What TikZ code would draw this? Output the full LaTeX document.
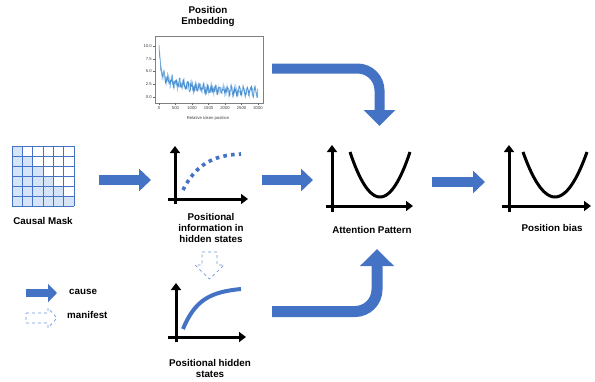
\documentclass[tikz,border=0pt]{standalone}
\usepackage{fontspec}
\setmainfont{Liberation Sans}
\usetikzlibrary{arrows.meta}
\definecolor{cblue}{HTML}{4472C4}
\definecolor{lblue}{HTML}{D6E4F7}
\definecolor{mblue}{HTML}{6F97DA}
\definecolor{pblue}{HTML}{4A90D0}
\definecolor{pblue2}{HTML}{9CC6EC}
\begin{document}
\begin{tikzpicture}[x=1pt,y=-1pt,
  lbl/.style={font=\bfseries\fontsize{9.8}{11}\selectfont, align=center, inner sep=0pt},
  tick/.style={font=\fontsize{4.2}{4.6}\selectfont, text=black!75, inner sep=0.5pt},
  axis/.style={line width=3pt, -{Triangle[length=7pt,width=10pt]}},
  ucurve/.style={line width=3pt, black},
  cause/.style={cblue, line width=10pt, -{Triangle[length=12pt,width=22pt]}},
  manifest/.style={mblue, dashed, line width=0.7pt},
]
\useasboundingbox (0,0) rectangle (595,381);

% ---------- Position embedding plot ----------
\node[lbl] (pe) at (208,16) {Position\\Embedding};
\draw[black!50, line width=0.5pt] (155,36) rectangle (263,103);
\begin{scope}
\clip (155.3,36.3) rectangle (262.7,102.7);
\pgfmathsetseed{7}
\draw[pblue2, line width=0.5pt] plot[domain=0:3000, samples=301]
  ({159+0.033*\x},{97-5.1*(0.9+3.3*exp(-\x/900)+5.5*exp(-\x/45)+1.1*rand+0.5*sin(\x*3))});
\draw[pblue, line width=0.5pt] plot[domain=0:3000, samples=301]
  ({159+0.033*\x},{97-5.1*(0.9+3.3*exp(-\x/900)+5.5*exp(-\x/45)+0.7*rand+0.5*sin(\x*3))});
\end{scope}
\foreach \v/\t in {0/0.0,2.5/2.5,5/5.0,7.5/7.5,10/10.0}{
  \draw[black!60, line width=0.3pt] (155,{97-5.1*\v}) -- (153,{97-5.1*\v});
  \node[tick, anchor=east] at (152.5,{97-5.1*\v}) {\t};
}
\foreach \v in {0,500,1000,1500,2000,2500,3000}{
  \draw[black!60, line width=0.3pt] ({159+0.033*\v},103) -- ({159+0.033*\v},105);
  \node[tick, anchor=north] at ({159+0.033*\v},105.5) {\v};
}
\node[tick] (pexl) at (208,118) {Relative token position};

% ---------- Causal mask ----------
\foreach \r in {0,...,5}{
  \foreach \c in {0,...,\r}{
    \fill[lblue] ({12+\c*62/6},{146+\r*10}) rectangle +({62/6},10);
  }
}
\foreach \i in {0,...,6}{
  \draw[cblue, line width=0.7pt] ({12+\i*62/6},146) -- ({12+\i*62/6},206);
  \draw[cblue, line width=0.7pt] (12,{146+\i*10}) -- (74,{146+\i*10});
}
\node[lbl] (cm) at (43,221) {Causal Mask};

% ---------- Positional information plot ----------
\draw[axis] (175,204) -- (175,146);
\draw[axis] (168,199) -- (248,199);
\draw[cblue, line width=3.6pt, dash pattern=on 3.6pt off 4.2pt]
  (183,190) .. controls (195,166) and (212,155) .. (241,154);
\node[lbl] (pi) at (211,228) {Positional\\information in\\hidden states};

% ---------- Attention pattern plot ----------
\draw[axis] (332,212) -- (332,145);
\draw[axis] (326,206) -- (413,206);
\draw[ucurve] plot[domain=-30:30, samples=41] ({380+\x},{197-45*(\x/30)^2});
\node[lbl] (ap) at (372,230) {Attention Pattern};

% ---------- Position bias plot ----------
\draw[axis] (509,212) -- (509,145);
\draw[axis] (502,206) -- (591,206);
\draw[ucurve] plot[domain=-32:32, samples=41] ({555+\x},{197-45*(\x/32)^2});
\node[lbl] (pb) at (552,228) {Position bias};

% ---------- Positional hidden states plot ----------
\draw[axis] (176,342) -- (176,283);
\draw[axis] (168,337) -- (246,337);
\draw[cblue, line width=4pt]
  (183,329) .. controls (195,300) and (210,292) .. (241,289);
\node[lbl] (ph) at (210,368) {Positional hidden\\states};

% ---------- Cause arrows ----------
\coordinate (a1s) at (99,180);  \coordinate (a1e) at (151,180);
\coordinate (a2s) at (262,180); \coordinate (a2e) at (313,180);
\coordinate (a3s) at (432,182); \coordinate (a3e) at (485,182);
\draw[cause] (a1s) -- (a1e);
\draw[cause] (a2s) -- (a2e);
\draw[cause] (a3s) -- (a3e);

\coordinate (ts) at (272,68.5); \coordinate (tc) at (379.5,68.5); \coordinate (te) at (379.5,126);
\draw[cblue, line width=10pt, rounded corners=22pt, -{Triangle[length=16pt,width=31pt]}]
  (ts) -- (tc) -- (te);
\coordinate (bs) at (272,311.5); \coordinate (bc) at (377,311.5); \coordinate (be) at (377,249);
\draw[cblue, line width=11pt, rounded corners=22pt, -{Triangle[length=17pt,width=33pt]}]
  (bs) -- (bc) -- (be);

% ---------- Manifest arrow ----------
\coordinate (m) at (209.5,252);
\draw[manifest] (m) ++(-7.5,0) -- ++(15,0) -- ++(0,13) -- ++(7,0) -- ++(-14.5,14)
  -- ++(-14.5,-14) -- ++(7,0) -- cycle;

% ---------- Legend ----------
\coordinate (lcs) at (26,293); \coordinate (lce) at (57,293);
\draw[cblue, line width=8pt, -{Triangle[length=9pt,width=18pt]}] (lcs) -- (lce);
\node[lbl, anchor=west] (lc) at (69,292) {cause};
\coordinate (lm) at (26,318);
\draw[manifest] (lm) ++(0,-5) -- ++(22,0) -- ++(0,-5) -- ++(9,10) -- ++(-9,10)
  -- ++(0,-5) -- ++(-22,0) -- cycle;
\node[lbl, anchor=west] (lmt) at (67,315) {manifest};
\end{tikzpicture}
\end{document}
